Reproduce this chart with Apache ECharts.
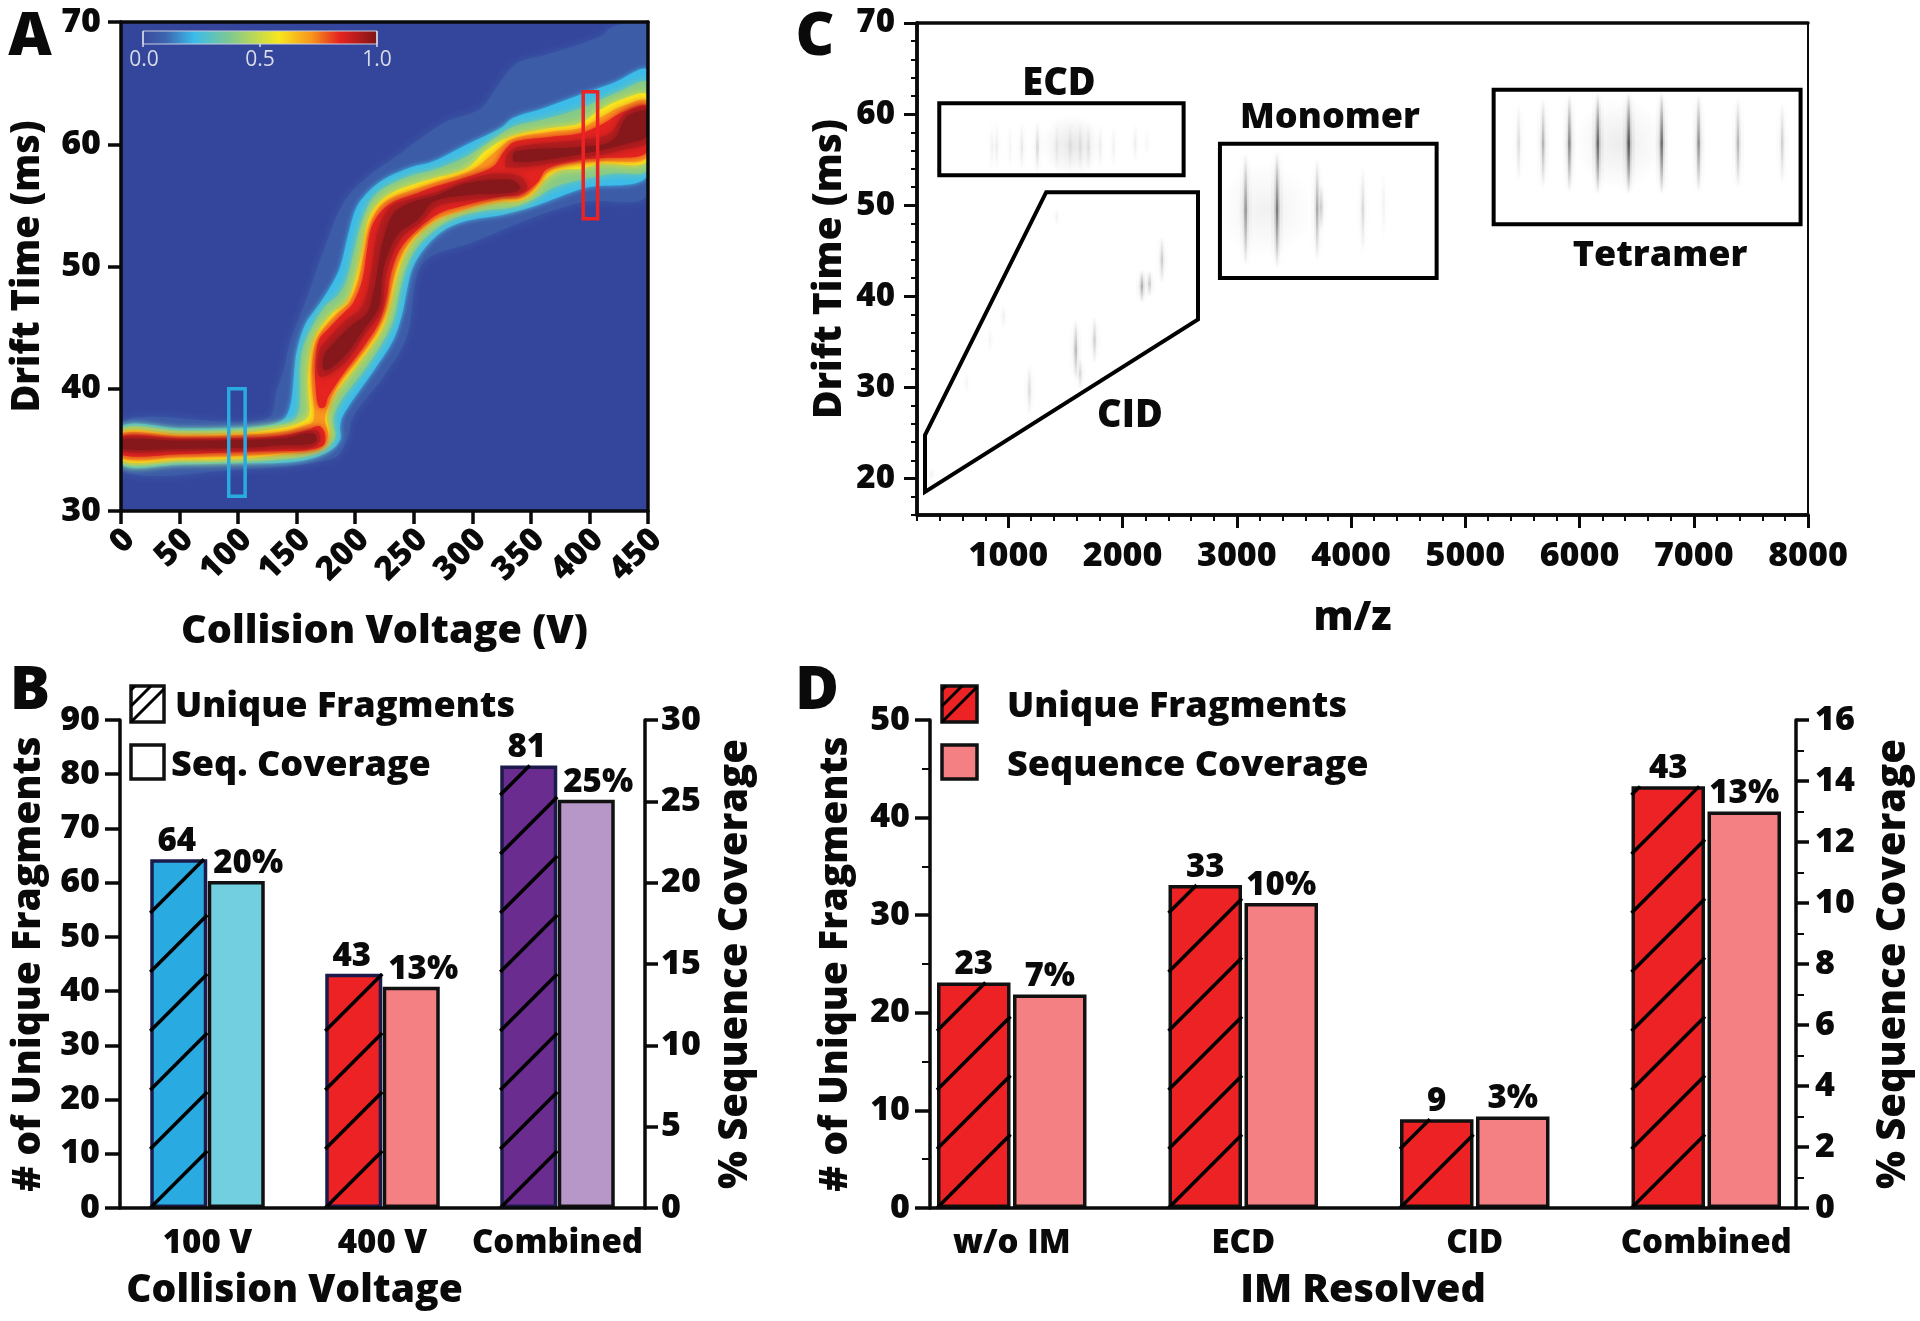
<!DOCTYPE html>
<html>
<head>
<meta charset="utf-8">
<title>Fragments by collision voltage and IM</title>
<style>
html, body { margin: 0; padding: 0; background: #fff; }
#main { width: 1920px; height: 1321px; }
</style>
</head>
<body>
<div id="main"></div>
<script src="https://cdn.jsdelivr.net/npm/echarts@6/dist/echarts.min.js"></script>
<script type="text/javascript">
// ---- panel A: contours, [voltage, drift time]
var haloContour = [[0,33.3],[100,33.4],[181,34.3],[193,35.8],[198,37.7],[224,41],[244,44.3],[253,49.4],[264,50.8],[298,51.9],[352,54],[395,55.3],[450,56],
	[450,69.8],[420,69.6],[409,68.8],[366,67.4],[338,66.6],[321,64.7],[307,62.9],[275,61.7],[235,59],[210,57.3],[190,55.2],[173,51.3],[159,47.5],[144,43.7],[139,41.5],[133,39.9],[127,37.7],[100,37.3],[0,37.3]];
var cyanContour = [[0,33.8],[50,33.8],[100,33.9],[139,33.95],[161,34.25],[178,34.9],[187,35.8],[187,36.9],[189,37.7],[198,39.1],[215,41.4],[232,43.9],[240,46.1],[244,48],[249,49.9],[261,51.7],[278,53.1],[298,53.8],[324,54.2],[352,54.9],[395,56.4],[450,57.5],
	[450,66],[420,65],[392,64.05],[361,62.95],[335,62.15],[324,61.3],[295,59.95],[267,58.6],[247,58.1],[224,57.1],[210,56],[201,54.8],[194,52.6],[187,49.9],[178,48.2],[167,46.6],[157,45.2],[150,43],[148,41.4],[146.5,39.8],[144,38.4],[139,37.5],[127,37.05],[100,36.8],[50,36.75],[0,36.9]];
var greenContour = [[0,33.95],[50,34],[100,34.05],[139,34.25],[161,34.55],[176,35.2],[183,36.1],[181,37.2],[182,37.9],[189,39.2],[206,41.3],[222,43.6],[232,45.5],[237,47.6],[242,49.5],[252,51.5],[268,53],[286,54],[311,54.6],[332,54.8],[352,55.5],[370,56.5],[392,57.1],[420,57.6],[450,58],
	[450,65],[425,64.3],[392,62.9],[364,62.1],[334,61.4],[318,60.4],[295,59],[267,57.9],[250,57.5],[228,56.6],[215,55.6],[205,53.4],[199,51.3],[193,49],[185,47.6],[174,46.7],[163,45],[155,43.2],[153,41.4],[153,39.8],[152,38.2],[148,37.4],[139,37.1],[100,36.65],[50,36.55],[0,36.7]];
var yellowContour = [[0,34.15],[50,34.2],[100,34.3],[139,34.65],[161,34.95],[174,35.5],[178,36.35],[176,37.4],[176,38],[181,39.35],[196,41.25],[213,43.4],[224,45.1],[231,47.3],[235.5,49.2],[244,51.35],[258,53],[275,54.1],[298,54.9],[324,55.3],[341,55.4],[352,56],[364,57.3],[375,57.9],[392,58],[409,58.4],[450,58.7],
	[450,64],[426,63.6],[409,62.8],[392,61.7],[366,61.3],[332,60.6],[312,59.5],[295,58],[267,57.2],[253,56.8],[233,56.1],[220,55.2],[211,53.8],[206,51.35],[200,48.9],[193,47.1],[181,46.2],[169,44.8],[163,43.4],[160,41.5],[160,39.9],[161,38],[157,37.4],[139,36.8],[100,36.35],[50,36.25],[0,36.45]];
var orangeContour = [[0,34.35],[50,34.4],[110,34.55],[139,34.75],[161,34.95],[172,35.2],[177,36.2],[174,37.4],[176,38.3],[185,40.3],[201,42.3],[217,44.4],[226,46.4],[231,48.3],[237,50.3],[248,52.2],[266,53.7],[288,54.5],[324,55.5],[341,55.6],[353,56.4],[364,57.7],[378,58.3],[409,58.6],[450,59],
	[450,63.5],[428,63.1],[410,62.2],[392,61.3],[366,61],[334,60.4],[320,59.4],[300,57.9],[267,56.85],[253,56.4],[233,55.7],[221,54.9],[213,53.5],[208,51.3],[203,49],[195,47.1],[185,46.2],[172,44.8],[166,43.7],[163,41.8],[163,40.1],[165,38.2],[164,37.3],[157,37],[139,36.5],[100,36.2],[50,36.1],[0,36.3]];
var redLowContour = [[0,34.6],[50,34.65],[110,34.85],[139,34.9],[159,35],[173,35.4],[174,36.35],[169,36.95],[159,36.6],[139,36.2],[110,36],[50,35.95],[0,36.1]];
var redMainContour = [[174,38.5],[177,39.35],[190,41.25],[207,43.4],[220,45.35],[227,47.5],[230,49.2],[238,51.35],[253,53],[272,54.35],[290,54.9],[324,55.7],[341,55.84],[355,56.8],[364,58],[392,58.7],[409,58.85],[450,59.4],
	[450,63.1],[429,62.65],[412,61.7],[392,60.9],[366,60.6],[336,60.2],[327,59.4],[318,58.2],[295,57.3],[267,56.5],[253,56],[235,55.4],[223,54.6],[214,53.25],[210,51.35],[206,48.9],[198,47],[190,46.2],[176,44.8],[169,44],[166,42.1],[166,40.4],[169,38.5]];
var crimsonLowContour = [[0,34.9],[50,34.9],[110,35],[139,35.1],[163,35.2],[170,35.8],[167,36.6],[139,36.1],[110,35.9],[50,35.85],[0,36]];
var crimsonMainContour = [[170,41],[190,42],[207,44.3],[222,46.4],[226,49.2],[231,50.8],[241,52.5],[256,53.6],[270,54.9],[295,55.4],[336,55.9],[347,56.4],[340,57.4],[318,57.6],[295,57],[270,56.1],[247,55.5],[230,54.9],[219,52.8],[215,50.5],[210,47.8],[204,46.5],[192,45.6],[176,44],[169,43]];
var crimsonHighContour = [[330,58.1],[395,58.9],[432,59.6],[450,60.2],[450,63],[430,62.5],[418,60.9],[395,60.4],[340,59.8],[330,59.2]];
var darkLowContour = [[0,35.1],[50,35.1],[110,35.2],[139,35.4],[163,35.5],[167,35.8],[164,36.35],[139,35.95],[110,35.8],[50,35.75],[0,35.85]];
var darkMainContour = [[174,41.5],[190,42.6],[207,44.8],[220,46.7],[223,49.2],[227,50.8],[237,52.7],[253,53.8],[267,55.3],[295,55.85],[336,56.1],[341,56.5],[332,57.1],[295,56.8],[270,55.85],[247,55.2],[233,54.35],[224,52.2],[220,50.25],[215.5,47.8],[210,46.15],[196,45.1],[178.5,43.4],[173,42.6]];
var darkHighContour = [[336.5,58.55],[395,59.25],[432,60.07],[450,60.75],[450,62.7],[432,62.25],[420.5,60.35],[395,59.8],[336.5,59.4]];
var lowBox = [[92,31.2],[106,31.2],[106,40],[92,40]];
var highBox = [[394.7,53.9],[407,53.9],[407,64.3],[394.7,64.3]];

// ---- panel C: boxes [m/z, drift time], streaks [m/z, centre, half span, darkness], haze [m/z, centre, half m/z, half span, darkness]
var ecdBox = [[395,53.3],[2534,53.3],[2534,61.2],[395,61.2]];
var cidBox = [[270,24.76],[1331,51.43],[2660,51.43],[2660,37.47],[270,18.53]];
var monomerBox = [[2852,42],[4749,42],[4749,56.74],[2852,56.74]];
var tetramerBox = [[5248,47.9],[7935,47.9],[7935,62.67],[5248,62.67]];
var tetramerStreaks = [[5467,56.8,4.4,0.14],[5681,56.8,5,0.32],[5911,56.8,5.4,0.55],[6160,56.8,5.6,0.7],[6430,56.8,5.6,0.8],[6719,56.8,5.6,0.7],[7042,56.8,5.4,0.5],[7387,56.8,5,0.32],[7774,56.8,4.6,0.2]];
var monomerStreaks = [[3077,49.5,6.2,0.45],[3352,49.5,6.4,0.6],[3703,49.5,5.6,0.36],[3739,49.8,2.5,0.18],[4103,49.5,4.8,0.16],[4284,50,4,0.05]];
var ecdStreaks = [[855,56.4,2.8,0.05],[898,56.4,2.8,0.07],[1015,56.4,2.8,0.04],[1118,56.4,2.8,0.09],[1254,56.4,2.9,0.16],[1424,56.4,2.8,0.07],[1541,56.4,2.8,0.08],[1629,56.4,2.8,0.1],[1701,56.4,2.8,0.1],[1804,56.4,2.6,0.07],[1921,56.4,2.6,0.05],[2110,56.8,2.2,0.07],[2213,56.8,1.6,0.03]];
var cidStreaks = [[1184,29.7,2.9,0.14],[1590,34.1,3.3,0.3],[1628,31.5,1.8,0.16],[1754,35.2,2.6,0.2],[2169,41.1,1.8,0.35],[2236,41.4,1.5,0.22],[2344,44,2.6,0.22],[1424,48.7,1.1,0.05],[957,37.8,1.5,0.06],[840,35.2,1.5,0.04],[635,30.4,1.2,0.04],[328,20.5,0.7,0.05]];
var hazePatches = [[1550,56.6,650,3.4,0.09],[6350,56.8,1000,5,0.08],[3250,49.5,420,6,0.06]];
var cXMajor = [1000,2000,3000,4000,5000,6000,7000,8000];
var cXMinor = [200,400,600,800,1200,1400,1600,1800,2200,2400,2600,2800,3200,3400,3600,3800,4200,4400,4600,4800,5200,5400,5600,5800,6200,6400,6600,6800,7200,7400,7600,7800];
var cYMajor = [20,30,40,50,60,70];
var cYMinor = [16,18,22,24,26,28,32,34,36,38,42,44,46,48,52,54,56,58,62,64,66,68];

// ---- panel B
var bCategories = ['100 V', '400 V', 'Combined'];
var bFragments = [64.3, 43.2, 81.6];
var bFragmentLabels = ['64', '43', '81'];
var bCoverage = [20.1, 13.6, 25.1];
var bCoverageLabels = ['20%', '13%', '25%'];
var bFragmentColors = ['#29abe2', '#ed2224', '#6a2c8f'];
var bCoverageColors = ['#72cfdf', '#f48083', '#b797c8'];

// ---- panel D
var dCategories = ['w/o IM', 'ECD', 'CID', 'Combined'];
var dFragments = [23.1, 33.1, 9.1, 43.2];
var dFragmentLabels = ['23', '33', '9', '43'];
var dCoverage = [7, 10, 3, 13];
var dCoverageLabels = ['7%', '10%', '3%', '13%'];

var FONT = '"Open Sans"';
var INK = '#0a0a0a';

function textStyle(size) {
	return { fontFamily: FONT, fontWeight: 800, fontSize: size, color: INK };
}

function lineAxis(extra) {
	var axis = {
		type: 'value',
		z: 10,
		axisLine: { show: true, onZero: false, lineStyle: { color: INK, width: 3.5 } },
		axisTick: { show: true, length: 13, lineStyle: { color: INK, width: 3.5 } },
		axisLabel: Object.assign({ show: true, margin: 20 }, textStyle(34)),
		splitLine: { show: false }
	};
	return Object.assign(axis, extra);
}

function bareAxis(extra) {
	return lineAxis(Object.assign({ axisTick: { show: false }, axisLabel: { show: false } }, extra));
}

// area or outline drawn from a list of data points
function polygonSeries(points, axisIdx, style, smooth, z) {
	return {
		type: 'custom',
		xAxisIndex: axisIdx,
		yAxisIndex: axisIdx,
		coordinateSystem: 'cartesian2d',
		clip: true,
		silent: true,
		z: z,
		data: points,
		renderItem: function (params, api) {
			if (params.dataIndex !== 0) {
				return;
			}
			return {
				type: 'polygon',
				shape: { points: points.map(function (p) { return api.coord(p); }), smooth: smooth },
				style: style
			};
		}
	};
}

function heatBand(points, color, blur, z) {
	return polygonSeries(points, 0, { fill: color, shadowColor: color, shadowBlur: blur }, 0.35, z);
}

function streakGradient(alpha) {
	return new echarts.graphic.LinearGradient(0, 0, 0, 1, [
		{ offset: 0, color: 'rgba(20,20,20,0)' },
		{ offset: 0.5, color: 'rgba(20,20,20,' + alpha + ')' },
		{ offset: 1, color: 'rgba(20,20,20,0)' }
	]);
}

function streakSeries(streaks) {
	return {
		type: 'custom',
		xAxisIndex: 2,
		yAxisIndex: 2,
		coordinateSystem: 'cartesian2d',
		silent: true,
		z: 3,
		data: streaks,
		renderItem: function (params, api) {
			var top = api.coord([api.value(0), api.value(1) + api.value(2)]);
			var bottom = api.coord([api.value(0), api.value(1) - api.value(2)]);
			var alpha = api.value(3);
			var layers = [[12, alpha * 0.08], [6, alpha * 0.22], [2.5, alpha * 0.75]];
			return {
				type: 'group',
				children: layers.map(function (l) {
					return {
						type: 'rect',
						shape: { x: top[0] - l[0] / 2, y: top[1], width: l[0], height: bottom[1] - top[1] },
						style: { fill: streakGradient(l[1]) }
					};
				})
			};
		}
	};
}

function hazeSeries(patches) {
	return {
		type: 'custom',
		xAxisIndex: 2,
		yAxisIndex: 2,
		coordinateSystem: 'cartesian2d',
		silent: true,
		z: 2,
		data: patches,
		renderItem: function (params, api) {
			var a = api.coord([api.value(0) - api.value(2), api.value(1) + api.value(3)]);
			var b = api.coord([api.value(0) + api.value(2), api.value(1) - api.value(3)]);
			return {
				type: 'rect',
				shape: { x: a[0], y: a[1], width: b[0] - a[0], height: b[1] - a[1] },
				style: {
					fill: new echarts.graphic.RadialGradient(0.5, 0.5, 0.5, [
						{ offset: 0, color: 'rgba(20,20,20,' + api.value(4) + ')' },
						{ offset: 1, color: 'rgba(20,20,20,0)' }
					])
				}
			};
		}
	};
}

// diagonal strokes starting in the lower-left corner, climbing at 45 degrees
function hatchSegments(x0, yBase, w, yTop, step) {
	var segs = [];
	for (var y = yBase; y > yTop; y -= step) {
		var y2 = y - w;
		var x2 = x0 + w;
		if (y2 < yTop) {
			x2 = x0 + (y - yTop);
			y2 = yTop;
		}
		segs.push([x0, y, x2, y2]);
	}
	return segs;
}

function hatchSeries(values, xIdx, yIdx, barW, barShift) {
	return {
		type: 'custom',
		xAxisIndex: xIdx,
		yAxisIndex: yIdx,
		coordinateSystem: 'cartesian2d',
		silent: true,
		clip: false,
		z: 4,
		data: values.map(function (v, i) { return [i, v]; }),
		renderItem: function (params, api) {
			var base = api.coord([api.value(0), 0]);
			var top = api.coord([api.value(0), api.value(1)]);
			var x0 = base[0] - barShift - barW / 2;
			return {
				type: 'group',
				children: hatchSegments(x0, base[1], barW, top[1], 59).map(function (s) {
					return {
						type: 'line',
						shape: { x1: s[0], y1: s[1], x2: s[2], y2: s[3] },
						style: { stroke: '#000', lineWidth: 3.5 }
					};
				})
			};
		}
	};
}

function barSeries(values, colors, labels, xIdx, yIdx, barW, gap, edge, labelShift) {
	return {
		type: 'bar',
		xAxisIndex: xIdx,
		yAxisIndex: yIdx,
		barWidth: barW,
		barGap: (gap / barW * 100) + '%',
		z: 3,
		data: values.map(function (v, i) {
			return { value: v, itemStyle: { color: colors[i] || colors[0], borderColor: edge, borderWidth: 3.5 } };
		}),
		label: Object.assign(textStyle(33), {
			show: true,
			position: 'top',
			distance: 1,
			offset: [labelShift, 0],
			formatter: function (p) { return labels[p.dataIndex]; }
		})
	};
}

function annotation(str, x, y, size, extra) {
	return {
		type: 'text',
		x: x,
		y: y,
		z: 20,
		style: Object.assign({ text: str, textAlign: 'center', textVerticalAlign: 'middle', font: '800 ' + size + 'px ' + FONT, fill: INK }, extra || {})
	};
}

function legendBox(x, y, w, h, fill, hatched) {
	var items = [{
		type: 'rect', z: 20,
		shape: { x: x, y: y, width: w, height: h },
		style: { fill: fill, stroke: '#111', lineWidth: 3.5 }
	}];
	if (hatched) {
		hatchSegments(x, y + h, w, y, 16).forEach(function (s) {
			items.push({ type: 'line', z: 20, shape: { x1: s[0], y1: s[1], x2: s[2], y2: s[3] }, style: { stroke: '#000', lineWidth: 3 } });
		});
	}
	return items;
}

function plainNumber(v) {
	return String(v);
}

var colorBar = [
	{
		type: 'rect', z: 20, shape: { x: 143, y: 31, width: 234, height: 13 },
		style: {
			fill: new echarts.graphic.LinearGradient(0, 0, 1, 0, [
				{ offset: 0, color: '#3a4a9c' }, { offset: 0.1, color: '#3d66b0' }, { offset: 0.22, color: '#3bbcea' },
				{ offset: 0.38, color: '#82c98d' }, { offset: 0.58, color: '#f8e71c' }, { offset: 0.72, color: '#f7941d' },
				{ offset: 0.84, color: '#e5231f' }, { offset: 1, color: '#7e1416' }
			]),
			stroke: '#c8cde0', lineWidth: 1
		}
	},
	{ type: 'line', z: 20, shape: { x1: 143, y1: 31, x2: 143, y2: 47 }, style: { stroke: '#d8dce8', lineWidth: 1.5 } },
	{ type: 'line', z: 20, shape: { x1: 260, y1: 44, x2: 260, y2: 47 }, style: { stroke: '#d8dce8', lineWidth: 1.5 } },
	{ type: 'line', z: 20, shape: { x1: 377, y1: 31, x2: 377, y2: 47 }, style: { stroke: '#d8dce8', lineWidth: 1.5 } },
	annotation('0.0', 144, 60, 20, { font: '400 21px ' + FONT, fill: '#d8dce8' }),
	annotation('0.5', 260, 60, 20, { font: '400 21px ' + FONT, fill: '#d8dce8' }),
	annotation('1.0', 377, 60, 20, { font: '400 21px ' + FONT, fill: '#d8dce8' })
];

var option = {
	animation: false,
	backgroundColor: '#fff',
	tooltip: { show: false },
	grid: [
		{ left: 121, top: 22, width: 527, height: 489, show: true, backgroundColor: '#34469c', borderWidth: 0 },
		{ left: 917, top: 23, width: 891, height: 492 },
		{ left: 120, top: 720, width: 525, height: 488 },
		{ left: 930, top: 720, width: 866, height: 488 },
		{ left: 896, top: 720, width: 926, height: 488 }
	],
	xAxis: [
		lineAxis({
			gridIndex: 0, min: 0, max: 450, interval: 50, position: 'bottom',
			axisLabel: Object.assign({ show: true, rotate: 45, margin: 32, padding: [0, -12, 0, 0] }, textStyle(33)),
			name: 'Collision Voltage (V)', nameLocation: 'middle', nameGap: 101, nameTextStyle: textStyle(39.5)
		}),
		bareAxis({ gridIndex: 0, min: 0, max: 450, position: 'top' }),
		lineAxis({
			gridIndex: 1, min: 200, max: 8000, position: 'bottom',
			axisTick: { show: true, length: 13, customValues: cXMajor, lineStyle: { color: INK, width: 3 } },
			axisLabel: Object.assign({ show: true, margin: 24, customValues: cXMajor, formatter: plainNumber }, textStyle(34)),
			name: 'm/z', nameLocation: 'middle', nameGap: 84, nameTextStyle: Object.assign(textStyle(40), { padding: [0, 20, 0, 0] })
		}),
		bareAxis({
			gridIndex: 1, min: 200, max: 8000, position: 'bottom',
			axisTick: { show: true, length: 6, customValues: cXMinor, lineStyle: { color: INK, width: 2 } }
		}),
		bareAxis({ gridIndex: 1, min: 200, max: 8000, position: 'top' }),
		{
			type: 'category', gridIndex: 2, data: bCategories, position: 'bottom', z: 10,
			axisLine: { onZero: false, lineStyle: { color: INK, width: 3.5 } },
			axisTick: { show: false },
			axisLabel: Object.assign({ interval: 0, margin: 19 }, textStyle(33)),
			name: 'Collision Voltage', nameLocation: 'middle', nameGap: 63, nameTextStyle: Object.assign(textStyle(39), { padding: [0, 176, 0, 0] })
		},
		bareAxis({
			gridIndex: 3, min: 0, max: 1, position: 'bottom',
			name: 'IM Resolved', nameLocation: 'middle', nameGap: 63, nameTextStyle: textStyle(39.5)
		}),
		{
			type: 'category', gridIndex: 4, data: dCategories, position: 'bottom', z: 10,
			axisLine: { show: false },
			axisTick: { show: false },
			axisLabel: Object.assign({ interval: 0, margin: 19 }, textStyle(33))
		}
	],
	yAxis: [
		lineAxis({
			gridIndex: 0, min: 30, max: 70, interval: 10, position: 'left',
			name: 'Drift Time (ms)', nameLocation: 'middle', nameRotate: 90, nameGap: 74, nameTextStyle: textStyle(38)
		}),
		bareAxis({ gridIndex: 0, min: 30, max: 70, position: 'right' }),
		lineAxis({
			gridIndex: 1, min: 16, max: 70, position: 'left',
			axisTick: { show: true, length: 13, customValues: cYMajor, lineStyle: { color: INK, width: 3 } },
			axisLabel: Object.assign({ show: true, margin: 22, customValues: cYMajor, formatter: plainNumber }, textStyle(33)),
			name: 'Drift Time (ms)', nameLocation: 'middle', nameRotate: 90, nameGap: 68, nameTextStyle: textStyle(39)
		}),
		bareAxis({
			gridIndex: 1, min: 16, max: 70, position: 'left',
			axisTick: { show: true, length: 6, customValues: cYMinor, lineStyle: { color: INK, width: 2 } }
		}),
		bareAxis({ gridIndex: 1, min: 16, max: 70, position: 'right', axisLine: { show: true, lineStyle: { color: INK, width: 2 } } }),
		lineAxis({
			gridIndex: 2, min: 0, max: 90, interval: 10, position: 'left',
			axisTick: { show: true, length: 15, lineStyle: { color: INK, width: 3.5 } },
			name: '# of Unique Fragments', nameLocation: 'middle', nameRotate: 90, nameGap: 72, nameTextStyle: textStyle(39)
		}),
		lineAxis({
			gridIndex: 2, min: 0, max: 30, interval: 5, position: 'right',
			axisLabel: Object.assign({ show: true, margin: 16 }, textStyle(34)),
			name: '% Sequence Coverage', nameLocation: 'middle', nameRotate: 90, nameGap: 71, nameTextStyle: textStyle(40)
		}),
		lineAxis({
			gridIndex: 3, min: 0, max: 50, interval: 10, position: 'left',
			axisTick: { show: true, length: 15, lineStyle: { color: INK, width: 3.5 } },
			minorTick: { show: true, splitNumber: 2, length: 8, lineStyle: { color: INK, width: 2 } },
			name: '# of Unique Fragments', nameLocation: 'middle', nameRotate: 90, nameGap: 75, nameTextStyle: textStyle(39)
		}),
		lineAxis({
			gridIndex: 3, min: 0, max: 16, interval: 2, position: 'right',
			axisLabel: Object.assign({ show: true, margin: 19 }, textStyle(34)),
			minorTick: { show: true, splitNumber: 2, length: 8, lineStyle: { color: INK, width: 2 } },
			name: '% Sequence Coverage', nameLocation: 'middle', nameRotate: 90, nameGap: 78, nameTextStyle: textStyle(40)
		}),
		{ type: 'value', gridIndex: 4, min: 0, max: 50, show: false },
		{ type: 'value', gridIndex: 4, min: 0, max: 16, show: false }
	],
	series: [
		heatBand(haloContour, '#3d5ca8', 10, 2),
		heatBand(cyanContour, '#3bbcea', 5, 3),
		heatBand(greenContour, '#86ca88', 8, 3),
		heatBand(yellowContour, '#f8e71c', 10, 4),
		heatBand(orangeContour, '#f8961d', 6, 4),
		heatBand(redLowContour, '#e5231f', 6, 5),
		heatBand(redMainContour, '#e5231f', 6, 5),
		heatBand(crimsonLowContour, '#b81c1e', 6, 5),
		heatBand(crimsonMainContour, '#b81c1e', 8, 5),
		heatBand(crimsonHighContour, '#b81c1e', 8, 5),
		heatBand(darkLowContour, '#86171a', 7, 6),
		heatBand(darkMainContour, '#86171a', 9, 6),
		heatBand(darkHighContour, '#86171a', 9, 6),
		polygonSeries(lowBox, 0, { fill: 'none', stroke: '#29abe2', lineWidth: 3.5 }, 0, 8),
		polygonSeries(highBox, 0, { fill: 'none', stroke: '#ed2224', lineWidth: 3.5 }, 0, 8),

		hazeSeries(hazePatches),
		streakSeries(tetramerStreaks),
		streakSeries(monomerStreaks),
		streakSeries(ecdStreaks),
		streakSeries(cidStreaks),
		polygonSeries(ecdBox, 2, { fill: 'none', stroke: '#000', lineWidth: 4 }, 0, 8),
		polygonSeries(cidBox, 2, { fill: 'none', stroke: '#000', lineWidth: 4, lineJoin: 'miter' }, 0, 8),
		polygonSeries(monomerBox, 2, { fill: 'none', stroke: '#000', lineWidth: 4 }, 0, 8),
		polygonSeries(tetramerBox, 2, { fill: 'none', stroke: '#000', lineWidth: 4 }, 0, 8),

		barSeries(bFragments, bFragmentColors, bFragmentLabels, 5, 5, 57, 0.5, '#1b1a4b', -2),
		barSeries(bCoverage, bCoverageColors, bCoverageLabels, 5, 6, 57, 0.5, '#111', 12),
		hatchSeries(bFragments, 5, 5, 57, 28.75),

		barSeries(dFragments, ['#ed2224'], dFragmentLabels, 7, 9, 73.5, 2.5, '#111', 0),
		barSeries(dCoverage, ['#f48083'], dCoverageLabels, 7, 10, 73.5, 2.5, '#111', 0),
		hatchSeries(dFragments, 7, 9, 73.5, 38)
	],
	graphic: [
		annotation('A', 30, 38, 60),
		annotation('B', 30, 692, 60),
		annotation('C', 815, 38, 60),
		annotation('D', 817, 692, 60),
		annotation('ECD', 1059, 84, 38),
		annotation('Monomer', 1330, 118, 36),
		annotation('Tetramer', 1660, 256, 36),
		annotation('CID', 1130, 416, 38),
		annotation('Unique Fragments', 175, 707, 36, { textAlign: 'left' }),
		annotation('Seq. Coverage', 171, 766, 36, { textAlign: 'left' }),
		annotation('Unique Fragments', 1007, 707, 36, { textAlign: 'left' }),
		annotation('Sequence Coverage', 1007, 766, 36, { textAlign: 'left' })
	].concat(colorBar,
		legendBox(131, 686, 33, 36, '#fff', true),
		legendBox(131, 745, 33, 34, '#fff', false),
		legendBox(942, 686, 35, 36, '#ed2224', true),
		legendBox(942, 745, 35, 34, '#f48083', false))
};

var myChart = echarts.init(document.getElementById('main'));
myChart.setOption(option);
</script>
</body>
</html>
